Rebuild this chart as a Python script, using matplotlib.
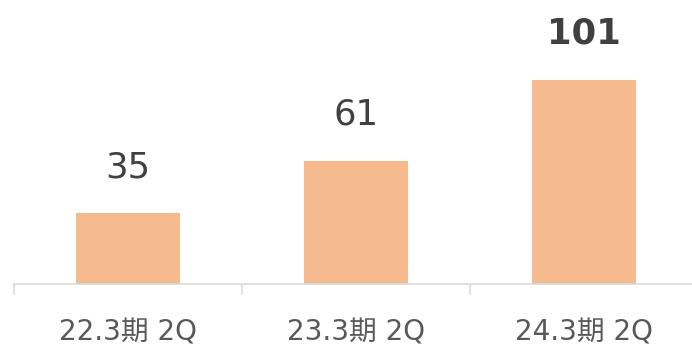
import matplotlib
matplotlib.use('Agg')

import matplotlib.pyplot as plt

plt.rcParams['font.family'] = ['DejaVu Sans', 'Noto Sans CJK JP']

categories = ["22.3期 2Q", "23.3期 2Q", "24.3期 2Q"]
values = [35, 61, 101]
bold_flags = [False, False, True]

fig = plt.figure(figsize=(6.92, 3.46), dpi=100)
ax = fig.add_axes([14 / 692, 62 / 346, 684 / 692, 283 / 346])

x = range(len(categories))
ax.bar(x, values, width=0.456, color='#F5B98E', edgecolor='none', linewidth=0)

for i, v in enumerate(values):
    ax.annotate(str(v), (i, v), xytext=(0, 26), textcoords='offset points',
                ha='center', va='baseline', fontsize=25.5, color='#404040',
                fontweight='bold' if bold_flags[i] else 'normal')

ax.set_xlim(-0.5, 2.5)
ax.set_ylim(0, 140)

for s in ['top', 'right', 'left']:
    ax.spines[s].set_visible(False)
ax.spines['bottom'].set_color('#D9D9D9')
ax.spines['bottom'].set_linewidth(1.2)

ax.set_yticks([])
ax.set_xticks(list(x))
ax.set_xticklabels(categories, fontsize=20, color='#595959')
ax.tick_params(axis='x', which='major', length=0, pad=25)
ax.set_xticks([-0.5, 0.5, 1.5, 2.5], minor=True)
ax.tick_params(axis='x', which='minor', length=8, width=1.2, color='#D9D9D9')

fig.savefig('out.png', dpi=100)
plt.close(fig)
